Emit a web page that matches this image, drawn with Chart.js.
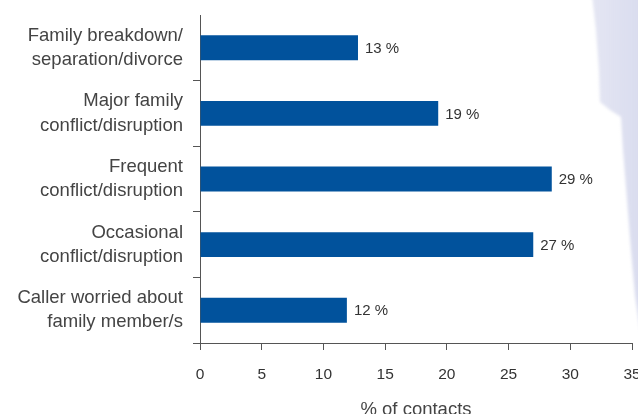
<!DOCTYPE html>
<html>
<head>
<meta charset="utf-8">
<script src="https://cdn.jsdelivr.net/npm/chart.js@4"></script>
<style>
  body { margin: 0; background: #fff; }
  #wrap { width: 638px; height: 414px; }
</style>
</head>
<body>
<div id="wrap"><canvas id="contactsChart" width="638" height="414"></canvas></div>
<script>
const categories = [
  ["Family breakdown/", "separation/divorce"],
  ["Major family", "conflict/disruption"],
  ["Frequent", "conflict/disruption"],
  ["Occasional", "conflict/disruption"],
  ["Caller worried about", "family member/s"],
];
const contactShares = [12.8, 19.3, 28.5, 27.0, 11.9];
const xTicks = [0, 5, 10, 15, 20, 25, 30, 35];

// soft lavender band on the right edge of the page
const sideWash = {
  id: "sideWash",
  beforeDraw(chart) {
    const ctx = chart.ctx;
    ctx.save();
    const grad = ctx.createLinearGradient(590, 0, 638, 0);
    grad.addColorStop(0, "rgba(222, 224, 240, 0.8)");
    grad.addColorStop(1, "rgba(214, 217, 237, 0.9)");
    ctx.fillStyle = grad;
    ctx.filter = "blur(1.5px)";
    ctx.beginPath();
    ctx.moveTo(592, -5);
    ctx.lineTo(596, 30);
    ctx.lineTo(599, 70);
    ctx.lineTo(600, 102);
    ctx.lineTo(610, 110);
    ctx.lineTo(621, 117);
    ctx.lineTo(623, 150);
    ctx.lineTo(627, 200);
    ctx.lineTo(631, 250);
    ctx.lineTo(635, 295);
    ctx.lineTo(640, 330);
    ctx.lineTo(645, 330);
    ctx.lineTo(645, -5);
    ctx.closePath();
    ctx.fill();
    ctx.restore();
  },
};

const valueLabels = {
  id: "valueLabels",
  afterDatasetsDraw(chart) {
    const ctx = chart.ctx;
    const meta = chart.getDatasetMeta(0);
    ctx.save();
    ctx.font = "15px 'Liberation Sans', Arial, sans-serif";
    ctx.fillStyle = "#333";
    ctx.textBaseline = "middle";
    ctx.textAlign = "left";
    meta.data.forEach((bar, i) => {
      ctx.fillText(Math.round(contactShares[i]) + " %", bar.x + 7, bar.y + 1);
    });
    ctx.restore();
  },
};

const config = {
  type: "bar",
  data: {
    labels: categories,
    datasets: [
      {
        data: contactShares,
        backgroundColor: "#01529c",
        barPercentage: 0.38,
        categoryPercentage: 1,
      },
    ],
  },
  options: {
    indexAxis: "y",
    responsive: false,
    animation: false,
    layout: { padding: { top: 15, right: 6, left: 0, bottom: 0 } },
    plugins: {
      legend: { display: false },
      tooltip: { enabled: false },
    },
    scales: {
      x: {
        min: 0,
        max: 35,
        afterBuildTicks: (scale) => {
          scale.ticks = xTicks.map((v) => ({ value: v }));
        },
        afterFit: (scale) => {
          scale.height = 71;
          scale.paddingLeft = 0;
          scale.paddingRight = 0;
        },
        border: { color: "#555", width: 1 },
        grid: { drawOnChartArea: false, tickLength: 7, tickColor: "#555" },
        ticks: {
          color: "#333",
          padding: 15,
          font: { family: "'Liberation Sans', Arial, sans-serif", size: 15.5 },
        },
        title: {
          display: true,
          text: "% of contacts",
          color: "#444",
          padding: { top: 0, bottom: -5 },
          font: { family: "'Liberation Sans', Arial, sans-serif", size: 18.5, lineHeight: 1 },
        },
      },
      y: {
        afterFit: (scale) => {
          scale.width = 200;
          scale.paddingTop = 0;
          scale.paddingBottom = 0;
        },
        border: { color: "#555", width: 1 },
        grid: {
          drawOnChartArea: false,
          tickLength: 7,
          tickColor: (ctx) => (ctx.index === 0 ? "rgba(0,0,0,0)" : "#555"),
        },
        ticks: {
          color: "#444",
          padding: 10,
          font: { family: "'Liberation Sans', Arial, sans-serif", size: 18.5, lineHeight: 1.3 },
        },
      },
    },
  },
  plugins: [sideWash, valueLabels],
};

new Chart(document.getElementById("contactsChart"), config);
</script>
</body>
</html>
